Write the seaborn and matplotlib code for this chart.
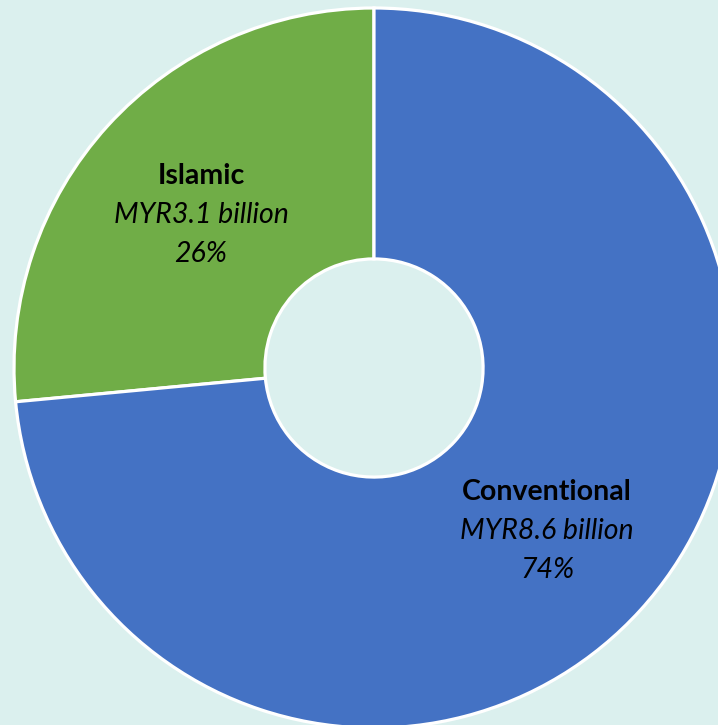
import numpy as np
import seaborn as sns
import matplotlib.pyplot as plt

# Data
segments = ["Islamic", "Conventional"]
amounts = [3.1, 8.6]  # MYR billion
colors = ["#70AD47", "#4472C4"]
bg = "#DBF0EE"

sns.set_theme(style="white")
plt.rcParams['font.family'] = ['Lato', 'DejaVu Sans']

fig = plt.figure(figsize=(7.18, 7.25), dpi=100, facecolor=bg)
ax = fig.add_axes([0, 0, 1, 1])
ax.set_facecolor(bg)

center = (374, 357)
radius = 360
wedges, _ = ax.pie(amounts, colors=colors, startangle=90, counterclock=True,
                   center=center, radius=radius, frame=True,
                   wedgeprops=dict(width=radius * 0.697, edgecolor="white", linewidth=2.3))
ax.set_xlim(0, 718)
ax.set_ylim(0, 725)
ax.set_aspect("equal")
ax.axis("off")

total = sum(amounts)
for w, name, val in zip(wedges, segments, amounts):
    mid = np.deg2rad((w.theta1 + w.theta2) / 2)
    r = radius * 0.65
    x = center[0] + r * np.cos(mid)
    y = center[1] + r * np.sin(mid) - 5
    pct = round(val / total * 100)
    ax.text(x, y + 39, name, ha="center", va="center", fontsize=20.5, fontweight="bold", color="black")
    ax.text(x, y, f"MYR{val} billion", ha="center", va="center", fontsize=20.5, fontstyle="italic", color="black")
    ax.text(x, y - 39, f"{pct}%", ha="center", va="center", fontsize=20.5, fontstyle="italic", color="black")

fig.savefig("out.png", dpi=100, facecolor=bg)
